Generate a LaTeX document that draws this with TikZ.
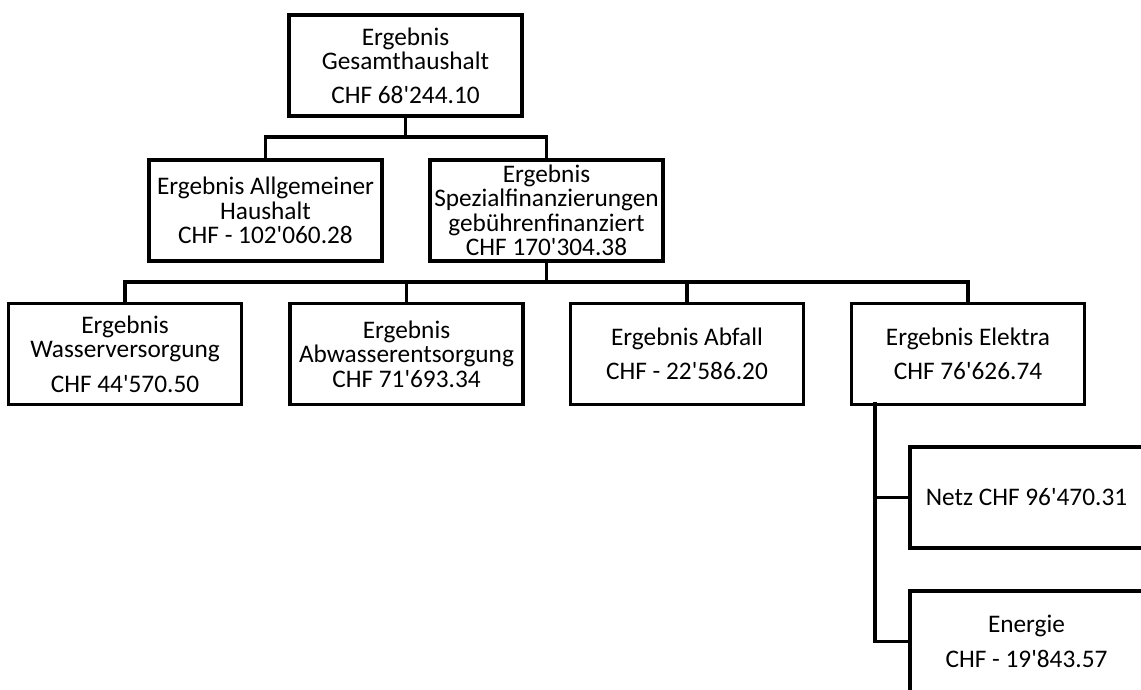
\documentclass[tikz,border=0pt]{standalone}
\usepackage{fontspec}
\setmainfont{Carlito}
\newcommand{\apo}{\textquotesingle}
\tikzset{
  box/.style={draw=black, line width=3.3pt, rectangle, minimum width=233pt, minimum height=101pt,
    inner sep=0pt, align=center, font=\fontsize{25.3}{24.5}\selectfont, fill=white},
  conn/.style={draw=black, line width=3.3pt, line cap=rect}
}
\begin{document}
\begin{tikzpicture}[x=1pt,y=-1pt]
\useasboundingbox (0,0) rectangle (1141,689);
\fill[white] (0,0) rectangle (1141,689);
\clip (0,0) rectangle (1141,689);
% nodes
\node[box] (top) at (405.5,65.5) {Ergebnis\\Gesamthaushalt\\[9pt]CHF 68\apo244.10};
\node[box] (allg) at (265.5,210.5) {Ergebnis Allgemeiner\\Haushalt\\CHF - 102\apo060.28};
\node[box] (spez) at (546.5,210.5) {Ergebnis\\Spezialfinanzierungen\\geb\"uhrenfinanziert\\CHF 170\apo304.38};
\node[box] (wass) at (125,354) {Ergebnis\\Wasserversorgung\\[10pt]CHF 44\apo570.50};
\node[box] (abw) at (406.5,354) {Ergebnis\\Abwasserentsorgung\\CHF 71\apo693.34};
\node[box] (abf) at (687,354) {Ergebnis Abfall\\[10pt]CHF - 22\apo586.20};
\node[box] (elek) at (968,354) {Ergebnis Elektra\\[10pt]CHF 76\apo626.74};
\node[box] (netz) at (1026.5,497.5) {Netz CHF 96\apo470.31};
\node[box] (ener) at (1026.5,641.5) {Energie\\[10pt]CHF - 19\apo843.57};
% junctions
\coordinate (j1) at (405.5,137);
\coordinate (j2) at (546.5,282);
\coordinate (j3) at (875,404);
\coordinate (j4) at (875,641.5);
% connectors
\draw[conn] (top.south) -- (j1);
\draw[conn] (j1) -| (allg.north);
\draw[conn] (j1) -| (spez.north);
\draw[conn] (spez.south) -- (j2);
\draw[conn] (j2) -| (wass.north);
\draw[conn] (j2) -| (abw.north);
\draw[conn] (j2) -| (abf.north);
\draw[conn] (j2) -| (elek.north);
\draw[conn] (j3) -- (j4);
\draw[conn] (j3 |- netz.west) -- (netz.west);
\draw[conn] (j4) -- (ener.west);
\end{tikzpicture}
\end{document}
